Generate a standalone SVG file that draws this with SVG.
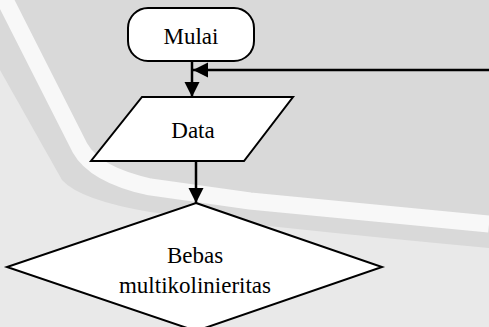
<svg xmlns="http://www.w3.org/2000/svg" width="489" height="327" viewBox="0 0 489 327">
<style>
.shape{fill:#ffffff;stroke:#000000;stroke-width:2}
.label{font-family:"Liberation Serif","Times New Roman",serif;font-size:23px;fill:#000000;text-anchor:middle}
.conn{stroke:#000000;stroke-width:2.5;fill:none}
</style>
<defs>
<marker id="arrow" markerUnits="userSpaceOnUse" markerWidth="16" markerHeight="16" refX="15" refY="7.5" orient="auto">
<path d="M0,0 L15,7.5 L0,15 Z" fill="#000000"/>
</marker>
</defs>
<g id="background">
<rect x="0" y="0" width="489" height="327" fill="#e9e9e9"/>
<path d="M0,0 L489,0 L489,248 Q380,238 250,224 L150,212 Q80,200 62,180 L0,70 Z" fill="#d9d9d9"/>
<path d="M4,-2 L80,148 Q95,175 150,187 L250,201 Q380,214 489,224" fill="none" stroke="#f8f8f8" stroke-width="17"/>
</g>
<g id="connectors">
<line class="conn" x1="192" y1="61" x2="192" y2="97" marker-end="url(#arrow)"/>
<line class="conn" x1="489" y1="70" x2="193" y2="70" marker-end="url(#arrow)"/>
<line class="conn" x1="196" y1="161" x2="196" y2="203" marker-end="url(#arrow)"/>
</g>
<g id="mulai">
<rect class="shape" x="128" y="8" width="126" height="53" rx="20" ry="20"/>
<text class="label" x="191" y="44">Mulai</text>
</g>
<g id="data">
<polygon class="shape" points="142,97 293,97 244,161 91,161"/>
<text class="label" x="193" y="138">Data</text>
</g>
<g id="bebas">
<polygon class="shape" points="196,203 382,267 196,331 7,267"/>
<text class="label" x="195" y="263">Bebas</text>
<text class="label" x="195" y="293">multikolinieritas</text>
</g>
</svg>
